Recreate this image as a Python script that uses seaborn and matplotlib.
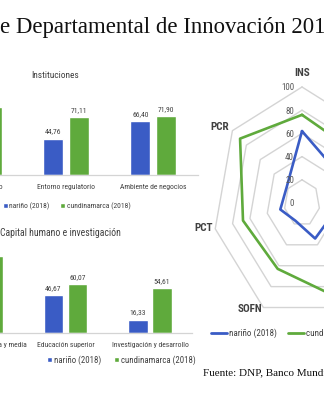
import numpy as np
import pandas as pd
import matplotlib
matplotlib.use("Agg")
import matplotlib.pyplot as plt
import seaborn as sns
from matplotlib import font_manager
from matplotlib.patches import Patch
from matplotlib.lines import Line2D
from matplotlib.transforms import ScaledTranslation

sns.set_theme(style="white")
_names = {f.name for f in font_manager.fontManager.ttflist}
SANS = next((n for n in ["Liberation Sans Narrow", "Roboto Condensed", "Open Sans", "Liberation Sans"] if n in _names), "DejaVu Sans")
SERIF = "Liberation Serif" if "Liberation Serif" in _names else "DejaVu Serif"
plt.rcParams["font.family"] = [SANS, "DejaVu Sans"]

# ---------------- data ----------------
series = ["nariño (2018)", "cundinamarca (2018)"]

inst_categories = ["Entorno político", "Entorno regulatorio", "Ambiente de negocios"]
inst_narino = [60.0, 44.76, 66.40]
inst_cundinamarca = [83.0, 71.11, 71.90]

chi_categories = ["Educación secundaria y media", "Educación superior", "Investigación y desarrollo"]
chi_narino = [70.0, 46.67, 16.33]
chi_cundinamarca = [95.0, 60.07, 54.61]

radar_labels = ["INS", "CHI", "INF", "SOFM", "SOFN", "PCT", "PCR"]
radar_narino = [62, 47, 37, 34, 17, 25, 22]
radar_cundinamarca = [76, 73, 80, 90, 63, 68, 89]
radar_ticks = [0, 20, 40, 60, 80, 100]

title_text = "e Departamental de Innovación 2018"
source_text = "Fuente: DNP, Banco Mundial"

BLUE = "#3A5CC5"
GREEN = "#5FAA3C"
TXT = "#404040"
GRID = "#d4d4d4"

W, H = 324, 400
fig = plt.figure(figsize=(W / 100, H / 100), dpi=100)
fig.patch.set_facecolor("white")


def fx(px):
    return px / W


def fy(py):
    return 1 - py / H


def px_off(dx, dy):
    # pixel offset (dy positive = downwards)
    return ScaledTranslation(dx / 100, -dy / 100, fig.dpi_scale_trans)


def fit_width(t, target_px, probe=None):
    full = t.get_text()
    if probe is not None:
        t.set_text(probe)
    fig.canvas.draw()
    r = fig.canvas.get_renderer()
    w = t.get_window_extent(r).width
    t.set_fontsize(t.get_fontsize() * target_px / w)
    t.set_text(full)


def bar_panel(ax, cats, v1, v2, xlim, ylim):
    df = pd.DataFrame({
        "cat": list(cats) * 2,
        "serie": [series[0]] * len(cats) + [series[1]] * len(cats),
        "val": list(v1) + list(v2),
    })
    sns.barplot(data=df, x="cat", y="val", hue="serie", order=cats,
                hue_order=series, palette=[BLUE, GREEN], saturation=1,
                width=0.575, gap=0.2, ax=ax, legend=False, errorbar=None)
    for c in ax.containers:
        ax.bar_label(c, fmt=lambda v: f"{v:.2f}".replace(".", ","), padding=3,
                     fontsize=5.5, color=TXT)
    ax.set_xlim(*xlim)
    ax.set_ylim(*ylim)
    ax.set_xlabel("")
    ax.set_ylabel("")
    ax.set_yticks([])
    ax.set_xticklabels([])
    ax.set_facecolor("none")
    sns.despine(ax=ax, left=True)
    ax.spines["bottom"].set_color(GRID)
    ax.spines["bottom"].set_linewidth(0.9)
    ax.tick_params(axis="x", length=0)
    # category labels (drawn also for groups partly outside the view)
    for i, cat in enumerate(cats):
        ax.annotate(cat, xy=(i, 0), xycoords=("data", "axes fraction"),
                    xytext=(0, -9), textcoords="offset pixels", ha="center",
                    va="top", fontsize=5.5, color=TXT, annotation_clip=False)


# ---------------- panel 1: Instituciones ----------------
s1, c1 = 87.0, 66.0
ax1 = fig.add_axes([fx(0), fy(175), fx(198), 85 / H])
bar_panel(ax1, inst_categories, inst_narino, inst_cundinamarca,
          (1 - c1 / s1, 1 + (198 - c1) / s1), (0, 85 / 0.815))

t_inst = fig.text(fx(55), fy(75), "Instituciones", ha="center", va="center",
                  fontsize=8, color=TXT)

fig.legend(handles=[Patch(facecolor=BLUE), Patch(facecolor=GREEN)], labels=series,
           loc="center left", bbox_to_anchor=(fx(3), fy(206)), ncol=2, frameon=False,
           fontsize=5.5, handlelength=0.6, handleheight=0.6, handletextpad=0.25,
           columnspacing=1.4, borderpad=0, borderaxespad=0, labelcolor=TXT)

# ---------------- panel 2: Capital humano ----------------
ax2 = fig.add_axes([fx(0), fy(333), fx(192), 93 / H])
bar_panel(ax2, chi_categories, chi_narino, chi_cundinamarca,
          (1 - 65.5 / 84.5, 1 + (192 - 65.5) / 84.5), (0, 93 / 0.815))

t_chi = fig.text(fx(0.5), fy(233), "Capital humano e investigación", ha="left",
                 va="center", fontsize=8, color=TXT)

fig.legend(handles=[Patch(facecolor=BLUE), Patch(facecolor=GREEN)], labels=series,
           loc="center left", bbox_to_anchor=(fx(47), fy(360)), ncol=2, frameon=False,
           fontsize=6.3, handlelength=0.6, handleheight=0.6, handletextpad=0.25,
           columnspacing=1.4, borderpad=0, borderaxespad=0, labelcolor=TXT)

# ---------------- radar ----------------
cx, cy, sxr, syr = 302, 203, 89, 116
axr = fig.add_axes([fx(cx - sxr), fy(cy + syr), 2 * sxr / W, 2 * syr / H], projection="polar")
axr.set_aspect("auto")
axr.set_theta_zero_location("N")
axr.set_theta_direction(-1)
axr.set_ylim(0, 100)
axr.grid(False)
axr.spines["polar"].set_visible(False)
axr.set_facecolor("none")

theta = np.linspace(0, 2 * np.pi, len(radar_labels), endpoint=False)
theta_c = np.append(theta, theta[0])
for v in radar_ticks[1:]:
    axr.plot(theta_c, [v] * len(theta_c), color=GRID, lw=1.0, zorder=1, clip_on=False)
axr.plot(theta_c, radar_narino + radar_narino[:1], color=BLUE, lw=1.9, zorder=3, clip_on=False)
axr.plot(theta_c, radar_cundinamarca + radar_cundinamarca[:1], color=GREEN, lw=1.9, zorder=3, clip_on=False)

axr.set_xticks(theta)
axr.set_xticklabels([])
axr.tick_params(axis="x", length=0)
axr.set_yticks(radar_ticks)
axr.set_yticklabels([])

# category labels placed at the outer ring vertices
label_style = {
    "INS": dict(ha="center", va="center", d=(0, -14)),
    "CHI": dict(ha="left", va="center", d=(4, -4)),
    "INF": dict(ha="left", va="center", d=(4, 0)),
    "SOFM": dict(ha="left", va="center", d=(3, 1)),
    "SOFN": dict(ha="right", va="center", d=(-1, 1)),
    "PCT": dict(ha="right", va="center", d=(-2, -1)),
    "PCR": dict(ha="right", va="center", d=(-3, -4)),
}
for th, lab in zip(theta, radar_labels):
    st = label_style[lab]
    axr.text(th, radar_ticks[-1], lab, transform=axr.transData + px_off(*st["d"]),
             ha=st["ha"], va=st["va"], fontsize=8, fontweight="bold", color=TXT,
             clip_on=False)

for v in radar_ticks:
    axr.text(0, v, str(v), transform=axr.transData + px_off(-8, 1), ha="right",
             va="center", fontsize=6.5, color="#595959")

fig.legend(handles=[Line2D([], [], color=BLUE, lw=2), Line2D([], [], color=GREEN, lw=2)],
           labels=series, loc="center left", bbox_to_anchor=(fx(211), fy(333)), ncol=2,
           frameon=False, fontsize=6.5, handlelength=1.8, handletextpad=0.2,
           columnspacing=1.2, borderpad=0, borderaxespad=0, labelcolor=TXT)

# ---------------- title & source ----------------
t_title = fig.text(fx(-0.5), fy(33), title_text, ha="left", va="baseline",
                   fontsize=16, color="#111111", family=SERIF)
t_src = fig.text(fx(203), fy(375), source_text, ha="left", va="baseline",
                 fontsize=8, color="#111111", family=SERIF)

fit_width(t_title, 326, probe="e Departamental de Innovación 201")
fit_width(t_src, 121, probe="Fuente: DNP, Banco Mund")
fit_width(t_inst, 48)
fit_width(t_chi, 120)

fig.savefig("out.png", dpi=100)
